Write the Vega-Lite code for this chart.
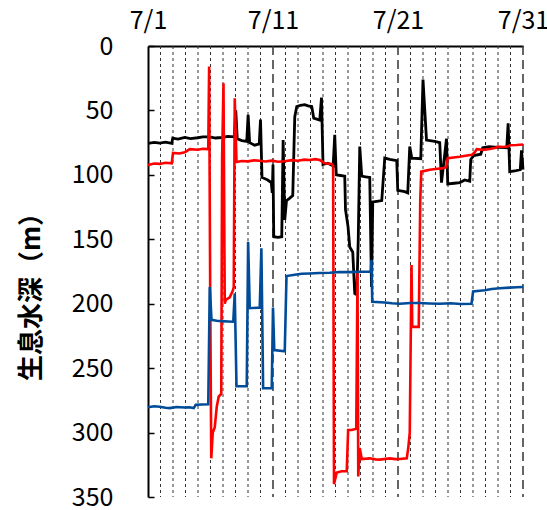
{
  "$schema": "https://vega.github.io/schema/vega-lite/v6.json",
  "width": 375,
  "height": 451,
  "autosize": {"type": "none"},
  "padding": {"left": 148, "top": 46, "right": 24, "bottom": 13},
  "background": "white",
  "config": {"view": {"stroke": null}},
  "datasets": {
    "grid": [
      {"day": 2, "major": 0}, {"day": 3, "major": 0}, {"day": 4, "major": 0}, {"day": 5, "major": 0}, {"day": 6, "major": 0},
      {"day": 7, "major": 0}, {"day": 8, "major": 0}, {"day": 9, "major": 0}, {"day": 10, "major": 0}, {"day": 11, "major": 1},
      {"day": 12, "major": 0}, {"day": 13, "major": 0}, {"day": 14, "major": 0}, {"day": 15, "major": 0}, {"day": 16, "major": 0},
      {"day": 17, "major": 0}, {"day": 18, "major": 0}, {"day": 19, "major": 0}, {"day": 20, "major": 0}, {"day": 21, "major": 1},
      {"day": 22, "major": 0}, {"day": 23, "major": 0}, {"day": 24, "major": 0}, {"day": 25, "major": 0}, {"day": 26, "major": 0},
      {"day": 27, "major": 0}, {"day": 28, "major": 0}, {"day": 29, "major": 0}, {"day": 30, "major": 0}, {"day": 31, "major": 1}
    ],
    "black": [
      {"day": 1.0, "depth": 75.5}, {"day": 1.5, "depth": 74.8}, {"day": 1.94, "depth": 75.3}, {"day": 2.4, "depth": 74.6}, {"day": 2.9, "depth": 75.5},
      {"day": 2.98, "depth": 71.5}, {"day": 3.4, "depth": 72.2}, {"day": 3.94, "depth": 71}, {"day": 4.4, "depth": 71.8}, {"day": 4.98, "depth": 71.2},
      {"day": 5.4, "depth": 70.6}, {"day": 5.94, "depth": 70.5}, {"day": 6.4, "depth": 71.4}, {"day": 6.9, "depth": 71}, {"day": 7.4, "depth": 70.2},
      {"day": 7.9, "depth": 70.5}, {"day": 8.02, "depth": 50}, {"day": 8.14, "depth": 72}, {"day": 8.5, "depth": 73.4}, {"day": 8.9, "depth": 74},
      {"day": 9.01, "depth": 53.5}, {"day": 9.13, "depth": 75}, {"day": 9.54, "depth": 77}, {"day": 9.9, "depth": 76},
      {"day": 10.0, "depth": 57}, {"day": 10.12, "depth": 102}, {"day": 10.58, "depth": 104}, {"day": 10.86, "depth": 106}, {"day": 10.94, "depth": 114},
      {"day": 11.0, "depth": 92}, {"day": 11.06, "depth": 148}, {"day": 11.4, "depth": 148.5}, {"day": 11.7, "depth": 148}, {"day": 11.81, "depth": 73},
      {"day": 11.94, "depth": 135}, {"day": 12.08, "depth": 120}, {"day": 12.34, "depth": 118}, {"day": 12.58, "depth": 116},
      {"day": 12.74, "depth": 55}, {"day": 12.9, "depth": 47}, {"day": 13.2, "depth": 46}, {"day": 13.54, "depth": 45.5}, {"day": 13.8, "depth": 46.5}, {"day": 14.1, "depth": 47},
      {"day": 14.26, "depth": 56}, {"day": 14.74, "depth": 57.5}, {"day": 14.88, "depth": 40}, {"day": 15.0, "depth": 92},
      {"day": 15.38, "depth": 91}, {"day": 15.81, "depth": 93}, {"day": 15.94, "depth": 69}, {"day": 16.06, "depth": 100},
      {"day": 16.4, "depth": 100.5}, {"day": 16.74, "depth": 101}, {"day": 16.8, "depth": 127}, {"day": 17.0, "depth": 140}, {"day": 17.14, "depth": 156},
      {"day": 17.38, "depth": 160}, {"day": 17.54, "depth": 192}, {"day": 17.7, "depth": 193}, {"day": 17.82, "depth": 150},
      {"day": 17.94, "depth": 78}, {"day": 18.1, "depth": 101}, {"day": 18.4, "depth": 101.5}, {"day": 18.74, "depth": 102}, {"day": 18.88, "depth": 187},
      {"day": 18.98, "depth": 121}, {"day": 19.3, "depth": 120.5}, {"day": 19.7, "depth": 120}, {"day": 19.94, "depth": 87},
      {"day": 20.34, "depth": 88}, {"day": 20.9, "depth": 89}, {"day": 20.98, "depth": 112}, {"day": 21.54, "depth": 113},
      {"day": 21.78, "depth": 114}, {"day": 21.94, "depth": 78}, {"day": 22.1, "depth": 87}, {"day": 22.82, "depth": 87.5},
      {"day": 23.0, "depth": 26}, {"day": 23.28, "depth": 73}, {"day": 23.94, "depth": 74}, {"day": 24.34, "depth": 75},
      {"day": 24.48, "depth": 106}, {"day": 24.88, "depth": 72}, {"day": 24.98, "depth": 107}, {"day": 25.5, "depth": 106.5}, {"day": 25.94, "depth": 106},
      {"day": 26.34, "depth": 104}, {"day": 26.74, "depth": 105}, {"day": 26.82, "depth": 88}, {"day": 27.06, "depth": 85},
      {"day": 27.62, "depth": 84}, {"day": 27.78, "depth": 79}, {"day": 28.3, "depth": 78.2}, {"day": 28.74, "depth": 78.5}, {"day": 29.7, "depth": 79},
      {"day": 29.81, "depth": 60}, {"day": 29.94, "depth": 97.5}, {"day": 30.34, "depth": 97}, {"day": 30.78, "depth": 96},
      {"day": 30.88, "depth": 81}, {"day": 31.0, "depth": 96}
    ],
    "red": [
      {"day": 1.0, "depth": 92.3}, {"day": 1.5, "depth": 91.2}, {"day": 1.94, "depth": 91.5}, {"day": 2.4, "depth": 90.6}, {"day": 2.9, "depth": 91},
      {"day": 3.0, "depth": 83}, {"day": 3.5, "depth": 83.4}, {"day": 3.94, "depth": 82.5}, {"day": 4.34, "depth": 80}, {"day": 4.98, "depth": 80.5},
      {"day": 5.4, "depth": 79.8}, {"day": 5.82, "depth": 80}, {"day": 5.89, "depth": 16}, {"day": 5.98, "depth": 200}, {"day": 6.06, "depth": 320},
      {"day": 6.18, "depth": 300}, {"day": 6.34, "depth": 296}, {"day": 6.5, "depth": 280}, {"day": 6.66, "depth": 272},
      {"day": 6.86, "depth": 270}, {"day": 6.93, "depth": 86}, {"day": 7.04, "depth": 29}, {"day": 7.14, "depth": 200},
      {"day": 7.22, "depth": 197}, {"day": 7.54, "depth": 195}, {"day": 7.78, "depth": 190}, {"day": 7.86, "depth": 187},
      {"day": 7.94, "depth": 40.6}, {"day": 8.08, "depth": 90}, {"day": 8.5, "depth": 89.2}, {"day": 8.98, "depth": 89.5}, {"day": 9.5, "depth": 88.8}, {"day": 9.94, "depth": 89},
      {"day": 10.4, "depth": 89.6}, {"day": 10.9, "depth": 89}, {"day": 11.4, "depth": 89.8}, {"day": 11.94, "depth": 89.5}, {"day": 12.5, "depth": 88.6}, {"day": 12.98, "depth": 89},
      {"day": 13.5, "depth": 88.2}, {"day": 13.94, "depth": 88.5}, {"day": 14.4, "depth": 87.8}, {"day": 14.74, "depth": 88.5}, {"day": 15.14, "depth": 91},
      {"day": 15.7, "depth": 91.5}, {"day": 15.81, "depth": 93}, {"day": 15.88, "depth": 340}, {"day": 16.1, "depth": 331},
      {"day": 16.5, "depth": 330}, {"day": 16.9, "depth": 330}, {"day": 17.01, "depth": 298}, {"day": 17.3, "depth": 298},
      {"day": 17.66, "depth": 297}, {"day": 17.76, "depth": 176}, {"day": 17.82, "depth": 334}, {"day": 17.94, "depth": 312},
      {"day": 18.1, "depth": 320.5}, {"day": 18.74, "depth": 320}, {"day": 19.2, "depth": 320.8}, {"day": 19.54, "depth": 321}, {"day": 20.34, "depth": 320},
      {"day": 20.8, "depth": 320.6}, {"day": 21.14, "depth": 320.5}, {"day": 21.7, "depth": 320}, {"day": 21.82, "depth": 312}, {"day": 21.94, "depth": 300},
      {"day": 22.08, "depth": 170}, {"day": 22.14, "depth": 218}, {"day": 22.66, "depth": 218}, {"day": 22.78, "depth": 120},
      {"day": 22.86, "depth": 97.5}, {"day": 23.54, "depth": 96}, {"day": 24.0, "depth": 95.4}, {"day": 24.5, "depth": 95}, {"day": 24.86, "depth": 94},
      {"day": 24.98, "depth": 87}, {"day": 25.94, "depth": 86}, {"day": 26.4, "depth": 85.2}, {"day": 26.9, "depth": 84.5}, {"day": 27.14, "depth": 82.5},
      {"day": 27.3, "depth": 80}, {"day": 27.8, "depth": 80.6}, {"day": 28.34, "depth": 80}, {"day": 28.82, "depth": 79}, {"day": 28.98, "depth": 78},
      {"day": 29.4, "depth": 78.4}, {"day": 29.78, "depth": 78}, {"day": 29.94, "depth": 77}, {"day": 30.5, "depth": 76.8}, {"day": 31.0, "depth": 76.5}
    ],
    "blue": [
      {"day": 1.0, "depth": 280.4}, {"day": 1.5, "depth": 279.6}, {"day": 1.94, "depth": 280}, {"day": 2.4, "depth": 280.8}, {"day": 2.74, "depth": 281},
      {"day": 3.3, "depth": 280.2}, {"day": 3.94, "depth": 280.5}, {"day": 4.3, "depth": 280.3}, {"day": 4.66, "depth": 281}, {"day": 4.82, "depth": 278.5},
      {"day": 5.3, "depth": 278.2}, {"day": 5.82, "depth": 278}, {"day": 5.94, "depth": 187}, {"day": 6.08, "depth": 212.5}, {"day": 6.5, "depth": 213.2},
      {"day": 6.9, "depth": 213.5}, {"day": 7.4, "depth": 213.8}, {"day": 7.82, "depth": 214}, {"day": 7.94, "depth": 192}, {"day": 8.08, "depth": 264},
      {"day": 8.9, "depth": 264}, {"day": 9.01, "depth": 152}, {"day": 9.14, "depth": 203.5}, {"day": 9.94, "depth": 203},
      {"day": 10.07, "depth": 157}, {"day": 10.21, "depth": 265.6}, {"day": 10.9, "depth": 265.5}, {"day": 11.0, "depth": 203},
      {"day": 11.1, "depth": 236}, {"day": 11.94, "depth": 237}, {"day": 12.08, "depth": 178.5}, {"day": 12.74, "depth": 177.5},
      {"day": 13.3, "depth": 176.8}, {"day": 13.94, "depth": 176.5}, {"day": 14.7, "depth": 176.2}, {"day": 15.54, "depth": 176}, {"day": 16.3, "depth": 175.4}, {"day": 17.14, "depth": 175.5},
      {"day": 18.0, "depth": 175.2}, {"day": 18.82, "depth": 175}, {"day": 18.88, "depth": 166}, {"day": 18.94, "depth": 198.5}, {"day": 19.94, "depth": 199},
      {"day": 20.5, "depth": 199.6}, {"day": 21.14, "depth": 200}, {"day": 22.0, "depth": 199.4}, {"day": 22.74, "depth": 199.5}, {"day": 23.5, "depth": 199.8}, {"day": 24.34, "depth": 200},
      {"day": 25.2, "depth": 199.6}, {"day": 26.0, "depth": 200.2}, {"day": 26.88, "depth": 200}, {"day": 27.01, "depth": 190.5}, {"day": 27.94, "depth": 189.5},
      {"day": 28.5, "depth": 188.6}, {"day": 29.14, "depth": 188}, {"day": 29.94, "depth": 187.5}, {"day": 30.5, "depth": 187.2}, {"day": 31.0, "depth": 187}
    ]
  },
  "layer": [
    {
      "data": {"name": "grid"},
      "mark": {"type": "rule", "color": "#333333"},
      "encoding": {
        "x": {"field": "day", "type": "quantitative", "scale": {"domain": [1, 31], "nice": false, "zero": false}},
        "strokeDash": {"condition": {"test": "datum.major == 1", "value": [9, 5]}, "value": [3, 3]},
        "strokeWidth": {"condition": {"test": "datum.major == 1", "value": 1.5}, "value": 1}
      }
    },
    {
      "data": {"name": "black"},
      "mark": {"type": "line", "color": "#000000", "strokeWidth": 2.8},
      "encoding": {
        "x": {"field": "day", "type": "quantitative"},
        "y": {"field": "depth", "type": "quantitative"}
      }
    },
    {
      "data": {"name": "red"},
      "mark": {"type": "line", "color": "#ff0000", "strokeWidth": 2.6},
      "encoding": {
        "x": {"field": "day", "type": "quantitative"},
        "y": {"field": "depth", "type": "quantitative"}
      }
    },
    {
      "data": {"name": "blue"},
      "mark": {"type": "line", "color": "#004c99", "strokeWidth": 2.6},
      "encoding": {
        "x": {
          "field": "day", "type": "quantitative",
          "scale": {"domain": [1, 31], "nice": false, "zero": false},
          "axis": {
            "orient": "top", "values": [1, 11, 21, 31], "labelExpr": "'7/' + datum.value",
            "grid": false, "ticks": false, "domainColor": "#000000", "domainWidth": 2,
            "labelFont": "Noto Sans CJK JP", "labelFontSize": 25, "labelColor": "#000000",
            "labelPadding": 13, "title": null, "labelFlush": false
          }
        },
        "y": {
          "field": "depth", "type": "quantitative",
          "scale": {"domain": [0, 350], "reverse": true, "nice": false, "zero": true},
          "axis": {
            "values": [0, 50, 100, 150, 200, 250, 300, 350], "grid": false,
            "ticks": true, "tickSize": -6, "tickColor": "#000000", "tickWidth": 1.5,
            "domainColor": "#000000", "domainWidth": 2,
            "labelFont": "Noto Sans CJK JP", "labelFontSize": 25, "labelColor": "#000000",
            "labelPadding": 41,
            "title": "生息水深（m）", "titleFont": "Noto Sans CJK JP", "titleFontSize": 26, "titleFontWeight": "bold",
            "titleColor": "#000000", "titleAngle": -90, "titleX": -117, "titleY": 244, "titleBaseline": "middle", "titleAlign": "center"
          }
        }
      }
    }
  ]
}
